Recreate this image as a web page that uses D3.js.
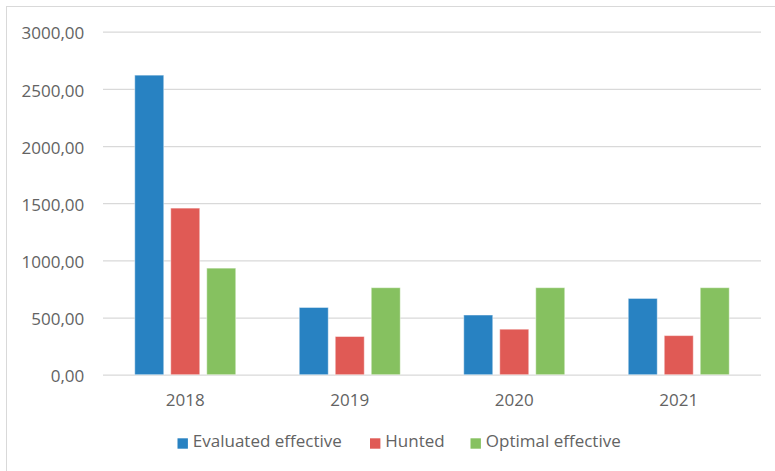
<!DOCTYPE html>
<html>
<head>
<meta charset="utf-8">
<script src="https://cdn.jsdelivr.net/npm/d3@7"></script>
<style>
  html, body { margin: 0; padding: 0; background: #fff; }
  svg { display: block; font-family: "Open Sans", sans-serif; }
</style>
</head>
<body>
<svg id="chart" width="775" height="471"></svg>
<script>
const years = ["2018", "2019", "2020", "2021"];
const seriesNames = ["Evaluated effective", "Hunted", "Optimal effective"];
const evaluated = [2620, 588, 522, 667];
const hunted = [1457, 334, 398, 342];
const optimal = [932, 761, 761, 761];
const yTicks = [0, 500, 1000, 1500, 2000, 2500, 3000];
const colors = ["#2882C2", "#E05A55", "#86C160"];

const seriesValues = [evaluated, hunted, optimal];
const svg = d3.select("#chart");
const plotLeft = 103, plotRight = 761, plotTop = 31.7, plotBottom = 374.7;
const fontSize = "17px";
const textColor = "#636363";

svg.append("rect").attr("x", 6.5).attr("y", 6.5).attr("width", 800).attr("height", 500)
  .attr("fill", "#fff").attr("stroke", "#d9d9d9").attr("stroke-width", 1);

const y = d3.scaleLinear().domain([0, 3000]).range([plotBottom, plotTop]);
const x0 = d3.scaleBand().domain(years).range([plotLeft, plotRight]).padding(0);
const groupW = 101;
const x1 = d3.scaleBand().domain(seriesNames).range([0, groupW]).paddingInner(7 / 36).paddingOuter(0);
const groupOffset = (x0.bandwidth() - groupW) / 2;

const fmt = v => d3.format(".2f")(v).replace(".", ",");

// gridlines + y labels
const yAxis = d3.axisLeft(y).tickValues(yTicks).tickSize(-(plotRight - plotLeft)).tickFormat(fmt).tickPadding(18.7);
const gy = svg.append("g").attr("transform", `translate(${plotLeft},0)`).call(yAxis);
gy.select(".domain").remove();
gy.selectAll(".tick line").attr("stroke", "#d9d9d9").attr("stroke-width", 1.3);
gy.selectAll(".tick text").attr("fill", textColor).style("font-size", fontSize)
  .style("font-family", "'Open Sans', sans-serif")
  .attr("dy", null).attr("y", 7.2);

// bars
const data = [];
years.forEach((yr, i) => {
  seriesNames.forEach((s, j) => data.push({ yr, s, j, v: seriesValues[j][i] }));
});
svg.append("g").selectAll("rect").data(data).enter().append("rect")
  .attr("x", d => x0(d.yr) + groupOffset + x1(d.s))
  .attr("width", x1.bandwidth())
  .attr("y", d => y(d.v))
  .attr("height", d => y(0) - y(d.v))
  .attr("fill", d => colors[d.j])
  .attr("stroke", "rgba(255,255,255,0.45)")
  .attr("stroke-width", 1);

// x axis labels
const xAxis = d3.axisBottom(x0).tickSize(0).tickPadding(18);
const gx = svg.append("g").attr("transform", `translate(0,${plotBottom})`).call(xAxis);
gx.select(".domain").remove();
gx.selectAll(".tick text").attr("fill", textColor).style("font-size", fontSize)
  .style("font-family", "'Open Sans', sans-serif")
  .attr("dy", null).attr("y", 31.3);

// legend
const legendX = [177.5, 370, 470.5];
const lg = svg.append("g");
seriesNames.forEach((s, j) => {
  lg.append("rect").attr("x", legendX[j]).attr("y", 438.3).attr("width", 10.4).attr("height", 10.4)
    .attr("fill", colors[j]);
  lg.append("text").attr("x", legendX[j] + 15.3).attr("y", 447.3)
    .attr("fill", textColor).style("font-size", fontSize).text(s);
});
</script>
</body>
</html>
